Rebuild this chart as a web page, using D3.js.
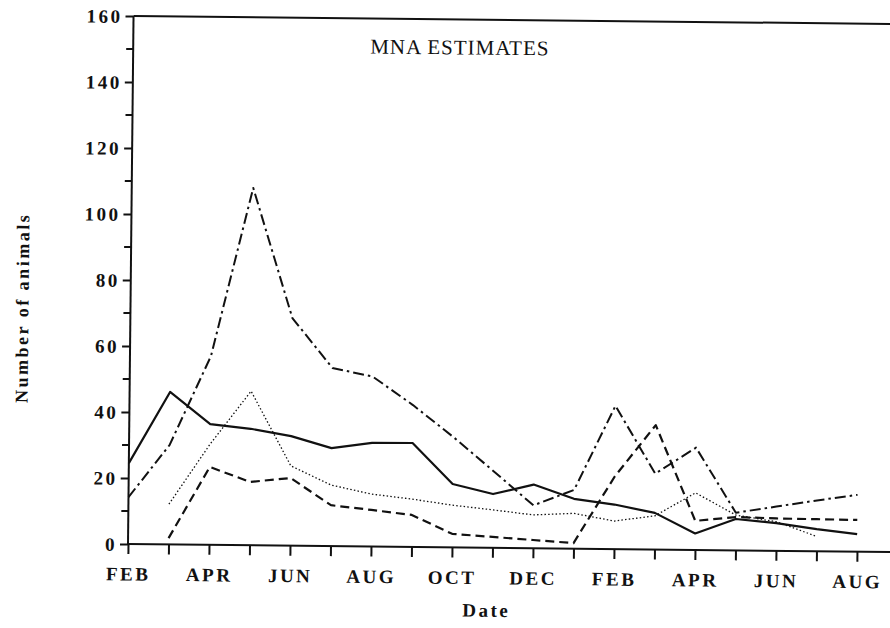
<!DOCTYPE html>
<html>
<head>
<meta charset="utf-8">
<script src="https://cdn.jsdelivr.net/npm/d3@7"></script>
<style>
    body { margin: 0; background: #fff; }
    svg { display: block; }
    .lbl { font-family: "Liberation Serif", "DejaVu Serif", serif; font-weight: bold; fill: #111; }
</style>
</head>
<body>
<div id="chart"></div>
<script>
// months from FEB of the first year to AUG of the next
var months = ["FEB", "MAR", "APR", "MAY", "JUN", "JUL", "AUG", "SEP", "OCT", "NOV",
              "DEC", "JAN", "FEB", "MAR", "APR", "MAY", "JUN", "JUL", "AUG"];
var monthLabels = ["FEB", "", "APR", "", "JUN", "", "AUG", "", "OCT", "",
                   "DEC", "", "FEB", "", "APR", "", "JUN", "", "AUG"];
var yTicks = [0, 20, 40, 60, 80, 100, 120, 140, 160];
var yMinorTicks = [10, 30, 50, 70, 90, 110, 130, 150];

// MNA estimates, one value per month (null = no estimate)
var solidSeries   = [24.5, 46.2, 36.6, 35.3, 33.2, 29.7, 31.4, 31.5, 19.2, 16.3,
                     19.3, 15.1, 13.5, 11.1, 5.0, 9.5, 8.4, 6.7, 5.3];
var dashDotSeries = [14.2, 30.1, 57.2, 108.3, 69, 54, 51.5, 43, 33.5, 23.3,
                     13, 17.8, 43.4, 23, 31, 11.4, 13.4, 15.4, 17.2];
var dashedSeries  = [null, 1.9, 23.6, 19.2, 20.5, 12.4, 11.1, 9.7, 4.1, 3.3,
                     2.5, 1.7, 22, 37.7, 8.8, 10.1, 9.8, 9.7, 9.6];
var dottedSeries  = [null, 12.2, 30.5, 46.7, 24.2, 18.5, 15.9, 14.5, 12.8, 11.5,
                     10.1, 10.7, 8.5, 10.2, 17.3, 10.7, 8.8, 4.5, null];

var width = 890,
    height = 628;

var x = d3.scaleLinear().domain([0, months.length - 1]).range([128, 857]);
var y = d3.scaleLinear().domain([0, 160]).range([544, 16]);

var svg = d3.select("#chart").append("svg")
    .attr("width", width)
    .attr("height", height);

// the scanned figure sits slightly rotated on the page
var g = svg.append("g")
    .attr("transform", "rotate(0.6," + x(0) + "," + y(0) + ")");

// y axis with major and minor ticks
var yAxis = d3.axisLeft(y)
    .tickValues(yTicks)
    .tickSize(8)
    .tickSizeOuter(0)
    .tickPadding(3);

var ya = g.append("g")
    .attr("transform", "translate(" + x(0) + ",0)")
    .call(yAxis);
ya.select(".domain").remove();
ya.selectAll("line").attr("stroke", "#111").attr("stroke-width", 2);
ya.selectAll("text")
    .attr("class", "lbl")
    .style("font-size", "19px")
    .style("letter-spacing", "2.5px")
    .attr("dy", "0.34em");

g.append("g")
    .selectAll("line")
    .data(yMinorTicks)
    .enter().append("line")
    .attr("x1", x(0) - 7)
    .attr("x2", x(0))
    .attr("y1", function(d) { return y(d); })
    .attr("y2", function(d) { return y(d); })
    .attr("stroke", "#111")
    .attr("stroke-width", 2);

// x axis, a tick for every month
var xAxis = d3.axisBottom(x)
    .tickValues(d3.range(months.length))
    .tickFormat(function(d) { return monthLabels[d]; })
    .tickSize(10)
    .tickSizeOuter(0)
    .tickPadding(13);

var xa = g.append("g")
    .attr("transform", "translate(0," + y(0) + ")")
    .call(xAxis);
xa.select(".domain").remove();
xa.selectAll("line").attr("stroke", "#111").attr("stroke-width", 2);
xa.selectAll("text")
    .attr("class", "lbl")
    .style("font-size", "19px")
    .style("letter-spacing", "2.5px");

// frame: left, bottom and top lines (no right side)
g.append("line")
    .attr("x1", x(0)).attr("x2", x(0))
    .attr("y1", y(160)).attr("y2", y(0))
    .attr("stroke", "#111").attr("stroke-width", 2);
g.append("line")
    .attr("x1", x(0)).attr("x2", 895)
    .attr("y1", y(0)).attr("y2", y(0))
    .attr("stroke", "#111").attr("stroke-width", 2);
g.append("line")
    .attr("x1", x(0)).attr("x2", 895)
    .attr("y1", y(160)).attr("y2", y(160))
    .attr("stroke", "#111").attr("stroke-width", 2);

// series
var line = d3.line()
    .defined(function(d) { return d != null; })
    .x(function(d, i) { return x(i); })
    .y(function(d) { return y(d); });

var series = [
    { values: solidSeries,   dash: null,         w: 2.2 },
    { values: dashDotSeries, dash: "11,4,2.5,4", w: 2 },
    { values: dashedSeries,  dash: "9,5",        w: 2.2 },
    { values: dottedSeries,  dash: "1.5,2.2",    w: 1.3 }
];

g.selectAll(".series")
    .data(series)
    .enter().append("path")
    .attr("class", "series")
    .attr("d", function(d) { return line(d.values); })
    .attr("fill", "none")
    .attr("stroke", "#111")
    .attr("stroke-width", function(d) { return d.w; })
    .attr("stroke-linejoin", "round")
    .attr("stroke-dasharray", function(d) { return d.dash; });

// texts
g.append("text")
    .attr("x", 365)
    .attr("y", 51)
    .style("font-family", "'Liberation Serif', serif")
    .style("font-size", "21px")
    .style("letter-spacing", "1px")
    .style("fill", "#111")
    .text("MNA ESTIMATES");

g.append("text")
    .attr("class", "lbl")
    .attr("x", 487)
    .attr("y", 613)
    .attr("text-anchor", "middle")
    .style("font-size", "19px")
    .style("letter-spacing", "2.5px")
    .text("Date");

g.append("text")
    .attr("class", "lbl")
    .attr("transform", "translate(26,309) rotate(-90)")
    .attr("text-anchor", "middle")
    .style("font-size", "18px")
    .style("letter-spacing", "2.5px")
    .text("Number of animals");
</script>
</body>
</html>
